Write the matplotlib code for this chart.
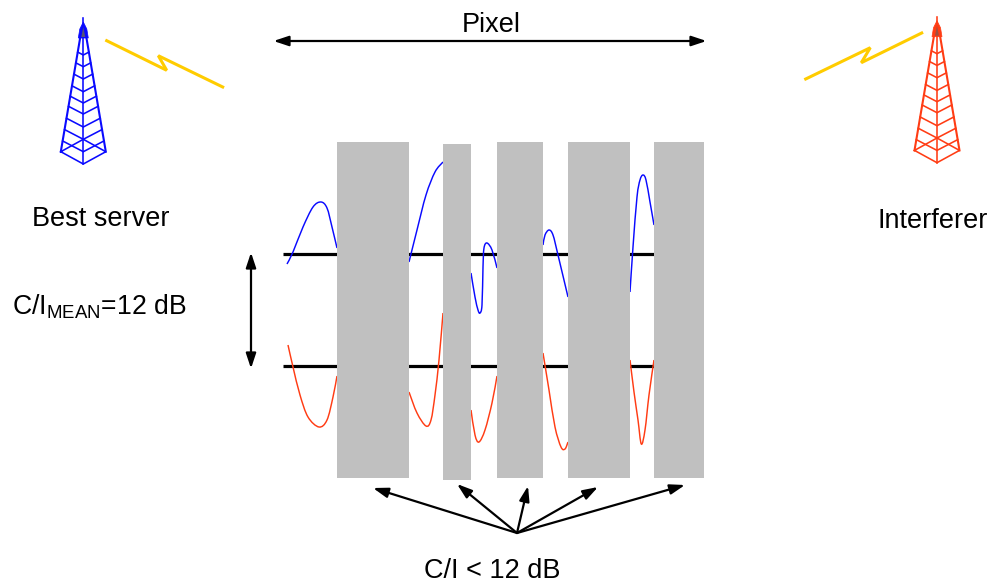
import matplotlib
matplotlib.use("Agg")
import matplotlib.pyplot as plt
from matplotlib.path import Path
from matplotlib.patches import PathPatch, Rectangle, Polygon, FancyArrowPatch

plt.rcParams['font.family'] = ['Liberation Sans', 'DejaVu Sans']
plt.rcParams['mathtext.default'] = 'regular'

# Visible pieces of the two signal traces (picture x, y)
blue_segments = [
    [(287,264),(293,252),(303,227),(313,207),(321,202),(327,208),(332,227),(337,248)],
    [(409,262),(417,230),(426,195),(435,172),(443,162)],
    [(471,273),(475,297),(478,310),(480,313),(482,305),(483,267),(484,248),(487,243),(492,250),(497,268)],
    [(543,245),(545,235),(549,230),(553,235),(558,255),(568,297)],
    [(630,292),(633,247),(637,197),(640,180),(643,175),(646,180),(650,202),(654,225)],
]
red_segments = [
    [(288,345),(293,367),(300,395),(308,417),(319,427),(327,420),(333,397),(337,376)],
    [(409,392),(417,413),(426,426),(431,420),(435,395),(439,360),(443,313)],
    [(471,410),(475,435),(479,442),(485,430),(492,403),(497,376)],
    [(543,353),(549,390),(555,427),(561,447),(565,449),(568,442)],
    [(630,360),(634,392),(638,420),(641.3,444),(645,430),(649,395),(654,360)],
]
# Grey blocks: left, right, top, bottom
blocks = [(337,409,142,478),(443,471,144,480),(497,543,142,478),(568,630,142,478),(654,704,142,478)]
mean_levels = [253.5, 366]
bolt_left = [(106.7,40.7),(166.7,70.3),(158.3,55.7),(222.7,87)]
bolt_right = [(805.7,79),(870.3,47.7),(861.3,62.7),(921.7,33)]
arrow_origin = (517,533)
arrow_tips = [(373,488),(457,484),(528,486),(598,487),(685,485)]
# Tower rung levels, y of the centre point on the tower axis
rung_levels = [55,66.7,79,91.7,103,114,127,139.3,151.7]

BLUE = '#0A0AFF'
RED = '#FF3C14'
GOLD = '#FFCC00'
GREY = '#C0C0C0'

fig = plt.figure(figsize=(9.91,5.83), dpi=100)
ax = fig.add_axes([0,0,1,1])
ax.set_xlim(0,991); ax.set_ylim(583,0); ax.axis('off')

def smooth(points):
    verts = [points[0]]; codes = [Path.MOVETO]
    n = len(points)
    for i in range(n-1):
        p0 = points[max(i-1,0)]; p1 = points[i]; p2 = points[i+1]; p3 = points[min(i+2,n-1)]
        verts += [(p1[0]+(p2[0]-p0[0])/6, p1[1]+(p2[1]-p0[1])/6),
                  (p2[0]-(p3[0]-p1[0])/6, p2[1]-(p3[1]-p1[1])/6), p2]
        codes += [Path.CURVE4]*3
    return Path(verts, codes)

for y in mean_levels:
    ax.plot([283,654],[y,y],color='black',lw=2.3,solid_capstyle='butt',zorder=2)
for segs,c in ((blue_segments,BLUE),(red_segments,RED)):
    for s in segs:
        ax.add_patch(PathPatch(smooth(s),fc='none',ec=c,lw=1.05,zorder=3))
for l,r,t,b in blocks:
    ax.add_patch(Rectangle((l,t),r-l,b-t,fc=GREY,ec='none',zorder=4))

def tower(dx,dy,c):
    def L(xs,ys,lw=1.15):
        ax.plot([x+dx for x in xs],[y+dy for y in ys],color=c,lw=lw,zorder=5,solid_joinstyle='miter')
    cx=83.3; top=37; base=151.7; hw=22.5
    L([cx-3,cx-hw],[top,base],1.5); L([cx+3,cx+hw],[top,base],1.5)
    L([cx,cx],[18,164])
    L([cx-hw,cx,cx+hw,cx,cx-hw],[base,164,base,139.3,base])
    for y in rung_levels:
        sy=y
        for _ in range(5):
            hwy=3+(hw-3)*(sy-top)/(base-top)
            sy=y-0.52*hwy
        L([cx-hwy,cx,cx+hwy],[sy,y,sy])
    ax.add_patch(Polygon([(cx+dx,22+dy),(cx-3.5+dx,29+dy),(cx-5+dx,38+dy),(cx+5+dx,38+dy),(cx+3.5+dx,29+dy)],fc=c,ec=c,lw=0.5,zorder=6))
    ax.add_patch(Polygon([(cx+dx,27+dy),(cx-2+dx,37+dy),(cx+2+dx,37+dy)],fc='#555577' if c==BLUE else '#A05040',ec='none',zorder=7))

tower(0,0,BLUE)
tower(853.7,-1.3,RED)

for b in (bolt_left,bolt_right):
    ax.plot(*zip(*b),color=GOLD,lw=2.2,solid_joinstyle='miter',zorder=5)

def arrow(a,b,style,lw=1.6):
    ax.add_patch(FancyArrowPatch(a,b,arrowstyle=style,lw=lw,color='black',
                 shrinkA=0,shrinkB=0,mutation_scale=1,zorder=8))
dbl='<|-|>,head_length=9,head_width=3'
one='-|>,head_length=9,head_width=3'
arrow((273.5,41),(706.5,41),dbl)
arrow((251,252.5),(251,368.5),dbl)
for tip in arrow_tips:
    arrow(arrow_origin,tip,one)

fs=19.5
def T(x,y,s): ax.text(x,y,s,fontsize=fs,ha='center',va='center',color='black',zorder=9)
T(491.5,25,'Pixel')
T(101,219,'Best server')
T(933,221,'Interferer')
ax.text(99,307,'C/I$_{MEAN}$=12 dB',fontsize=19.2,ha='center',va='center',color='black',zorder=9)
T(492,571,'C/I < 12 dB')

fig.savefig('out.png',dpi=100)
